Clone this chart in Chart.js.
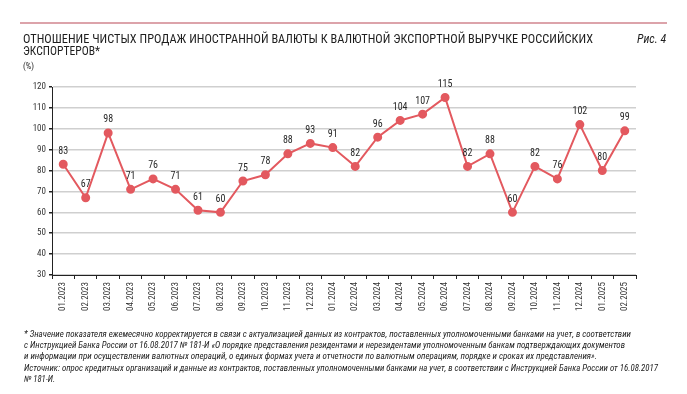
<!DOCTYPE html>
<html>
<head>
<meta charset="utf-8">
<script src="https://cdn.jsdelivr.net/npm/chart.js@4"></script>
<style>
  body { margin: 0; background: #fff; }
  #wrap { position: relative; width: 687px; height: 394px; overflow: hidden; }
  canvas { position: absolute; left: 0; top: 0; }
  .txt { position: absolute; white-space: nowrap; transform-origin: 0 0; color: #222;
         font-family: "Liberation Sans Narrow", "Roboto Condensed", "DejaVu Sans Condensed", "Liberation Sans", sans-serif; }
  .title { font-size: 12.5px; color: #1e1e1e; }
  .note { font-size: 8.6px; font-style: italic; color: #222; }
  #topline { position: absolute; left: 20px; top: 22px; width: 647px; height: 2px; background: #dca3aa; }
</style>
</head>
<body>
<div id="wrap">
  <div id="topline"></div>
  <canvas id="chart" width="687" height="394"></canvas>
</div>
<script>
const months = ["01.2023", "02.2023", "03.2023", "04.2023", "05.2023", "06.2023", "07.2023", "08.2023",
  "09.2023", "10.2023", "11.2023", "12.2023", "01.2024", "02.2024", "03.2024", "04.2024", "05.2024",
  "06.2024", "07.2024", "08.2024", "09.2024", "10.2024", "11.2024", "12.2024", "01.2025", "02.2025"];
const ratio = [83, 67, 98, 71, 76, 71, 61, 60, 75, 78, 88, 93, 91, 82, 96, 104, 107, 115, 82, 88, 60, 82, 76, 102, 80, 99];

const titleLines = [
  "ОТНОШЕНИЕ ЧИСТЫХ ПРОДАЖ ИНОСТРАННОЙ ВАЛЮТЫ К ВАЛЮТНОЙ ЭКСПОРТНОЙ ВЫРУЧКЕ РОССИЙСКИХ",
  "ЭКСПОРТЕРОВ*"
];
const noteLines = [
  "* Значение показателя ежемесячно корректируется в связи с актуализацией данных из контрактов, поставленных уполномоченными банками на учет, в соответствии",
  "с Инструкцией Банка России от 16.08.2017 № 181-И «О порядке представления резидентами и нерезидентами уполномоченным банкам подтверждающих документов",
  "и информации при осуществлении валютных операций, о единых формах учета и отчетности по валютным операциям, порядке и сроках их представления».",
  "Источник: опрос кредитных организаций и данные из контрактов, поставленных уполномоченными банками на учет, в соответствии с Инструкцией Банка России от 16.08.2017",
  "№ 181-И."
];

const wrap = document.getElementById("wrap");

// text block, squeezed to the measured width of the reference
function addText(text, cls, x, y, width) {
  const el = document.createElement("div");
  el.className = "txt " + cls;
  el.textContent = text;
  el.style.left = x + "px";
  el.style.top = y + "px";
  wrap.appendChild(el);
  if (width) {
    const w = el.getBoundingClientRect().width;
    el.style.transform = "scaleX(" + (width / w) + ")";
  }
  return el;
}

addText(titleLines[0], "title", 23, 31, 570);
addText(titleLines[1], "title", 23, 43, 77);
addText("Рис. 4", "title", 637, 31, 30).style.fontStyle = "italic";
addText("(%)", "note", 23, 61).style.fontStyle = "normal";

const noteWidths = [607, 601, 573, 634, null];
noteLines.forEach((line, i) => addText(line, "note", 24, 329 + i * 11.2, noteWidths[i]));

const pointLabels = {
  id: "pointLabels",
  afterDatasetsDraw(chart) {
    const ctx = chart.ctx;
    const meta = chart.getDatasetMeta(0);
    ctx.save();
    ctx.font = "10px 'Liberation Sans Narrow', 'Roboto Condensed', 'Liberation Sans', sans-serif";
    ctx.fillStyle = "#2a2a2a";
    ctx.textAlign = "center";
    ctx.textBaseline = "bottom";
    meta.data.forEach((pt, i) => {
      ctx.fillText(String(ratio[i]), pt.x, pt.y - 8);
    });
    ctx.restore();
  }
};

const tickFont = { family: "'Liberation Sans Narrow', 'Roboto Condensed', 'Liberation Sans', sans-serif", size: 9 };

new Chart(document.getElementById("chart"), {
  type: "line",
  data: {
    labels: months,
    datasets: [{
      data: ratio,
      borderColor: "#e3595f",
      backgroundColor: "#e3595f",
      borderWidth: 2,
      pointRadius: 3.5,
      pointHoverRadius: 3.5,
      tension: 0
    }]
  },
  options: {
    responsive: false,
    animation: false,
    events: [],
    layout: { padding: { left: 22, top: 87, right: 51, bottom: 79 } },
    plugins: { legend: { display: false }, tooltip: { enabled: false } },
    scales: {
      x: {
        offset: true,
        grid: { offset: true, drawOnChartArea: false, color: "#222", tickLength: 4 },
        border: { color: "#222", width: 1 },
        ticks: { autoSkip: false, maxRotation: 90, minRotation: 90, color: "#333", font: tickFont, padding: 3 },
        afterFit(scale) { scale.height = 40; }
      },
      y: {
        min: 30,
        max: 120,
        ticks: { stepSize: 10, color: "#333", font: tickFont, padding: 3 },
        grid: { color: "#cfcfcf", lineWidth: 1.5, tickColor: "#222", tickLength: 3 },
        border: { color: "#222", width: 1 },
        afterFit(scale) { scale.width = 30; }
      }
    }
  },
  plugins: [pointLabels]
});
</script>
</body>
</html>
